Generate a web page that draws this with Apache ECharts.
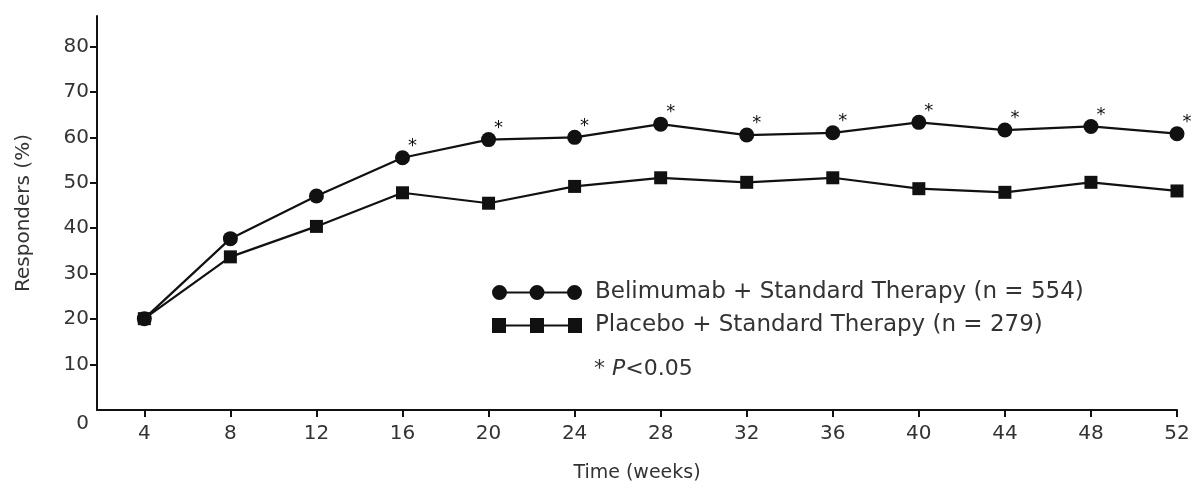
<!DOCTYPE html>
<html lang="en">
  <head>
    <meta charset="UTF-8" />
    <title>Responders over time</title>
    <script src="https://cdn.jsdelivr.net/npm/echarts/dist/echarts.min.js"></script>
    <style>
      html, body { margin: 0; padding: 0; background: #fff; }
    </style>
  </head>
  <body>
    <div id="chart" style="width: 1198px; height: 488px"></div>
    <script>
      // data
      const weeks = [4, 8, 12, 16, 20, 24, 28, 32, 36, 40, 44, 48, 52];
      const belimumab = [20.1, 37.7, 47.1, 55.5, 59.5, 60.0, 62.9, 60.5, 61.0, 63.3, 61.6, 62.4, 60.8];
      const placebo = [20.1, 33.7, 40.4, 47.8, 45.5, 49.2, 51.1, 50.1, 51.1, 48.7, 47.9, 50.1, 48.2];
      // weeks with P<0.05
      const significant = [16, 20, 24, 28, 32, 36, 40, 44, 48, 52];
      const yTicks = [0, 10, 20, 30, 40, 50, 60, 70, 80];

      const font = "DejaVu Sans";
      const ink = "#111";
      const textColor = "#333";

      const circleIcon =
        "path://M0,7.5A7.5,7.5 0 1 1 15,7.5A7.5,7.5 0 1 1 0,7.5Z" +
        "M37.5,7.5A7.5,7.5 0 1 1 52.5,7.5A7.5,7.5 0 1 1 37.5,7.5Z" +
        "M75,7.5A7.5,7.5 0 1 1 90,7.5A7.5,7.5 0 1 1 75,7.5Z" +
        "M7,6.5H83V8.5H7Z";
      const squareIcon =
        "path://M0,0H14V15H0Z" +
        "M38,0H52V15H38Z" +
        "M76,0H90V15H76Z" +
        "M7,6.5H83V8.5H7Z";

      var chart = echarts.init(document.getElementById("chart"));

      var option = {
        animation: false,
        grid: { left: 97, right: 21, top: 16, bottom: 75 },
        title: {
          left: 589,
          top: 353,
          text: "{a|* }{i|P}{a|<0.05}",
          textStyle: {
            fontWeight: "normal",
            rich: {
              a: { fontFamily: font, fontSize: 22, fontWeight: "normal", color: textColor },
              i: { fontFamily: font, fontSize: 22, fontWeight: "normal", fontStyle: "italic", color: textColor },
            },
          },
        },
        legend: {
          orient: "vertical",
          left: 487,
          top: 276,
          itemWidth: 90,
          itemHeight: 15,
          itemGap: 10,
          selectedMode: false,
          textStyle: {
            fontFamily: font,
            fontSize: 23,
            color: textColor,
            padding: [0, 0, 0, 8],
          },
          data: [
            { name: "Belimumab + Standard Therapy (n = 554)", icon: circleIcon },
            { name: "Placebo + Standard Therapy (n = 279)", icon: squareIcon },
          ],
        },
        xAxis: {
          type: "value",
          min: 1.8,
          max: 52,
          name: "Time (weeks)",
          nameLocation: "middle",
          nameGap: 54,
          nameTextStyle: { fontFamily: font, fontSize: 19, color: textColor },
          splitLine: { show: false },
          axisLine: { lineStyle: { color: ink, width: 2 } },
          axisTick: {
            length: 7,
            lineStyle: { color: ink, width: 2 },
            customValues: weeks,
          },
          axisLabel: {
            customValues: weeks,
            margin: 14,
            fontFamily: font,
            fontSize: 20,
            color: textColor,
          },
        },
        yAxis: {
          type: "value",
          min: 0,
          max: 86.7,
          name: "Responders (%)",
          nameLocation: "middle",
          nameGap: 63,
          nameTextStyle: { fontFamily: font, fontSize: 20, color: textColor },
          splitLine: { show: false },
          axisLine: { lineStyle: { color: ink, width: 2 } },
          axisTick: {
            length: 7,
            lineStyle: { color: ink, width: 2 },
            customValues: yTicks.slice(1),
          },
          axisLabel: {
            customValues: yTicks,
            margin: 8,
            fontFamily: font,
            fontSize: 20,
            color: textColor,
            formatter: function (v) {
              return v === 0 ? "{z|0}" : String(v);
            },
            rich: {
              z: { fontFamily: font, fontSize: 20, color: textColor, padding: [28, 0, 0, 0] },
            },
          },
        },
        series: [
          {
            name: "Belimumab + Standard Therapy (n = 554)",
            type: "line",
            symbol: "circle",
            symbolSize: 15,
            itemStyle: { color: ink },
            lineStyle: { color: ink, width: 2.2 },
            data: weeks.map((w, i) => ({
              value: [w, belimumab[i]],
              label: {
                show: significant.indexOf(w) >= 0,
                formatter: "*",
                position: "top",
                distance: 0,
                offset: [10, 5],
                fontFamily: font,
                fontSize: 18,
                color: ink,
              },
            })),
          },
          {
            name: "Placebo + Standard Therapy (n = 279)",
            type: "line",
            symbol: "rect",
            symbolSize: 13,
            itemStyle: { color: ink },
            lineStyle: { color: ink, width: 2.2 },
            data: weeks.map((w, i) => [w, placebo[i]]),
          },
        ],
      };

      option && chart.setOption(option);
    </script>
  </body>
</html>
